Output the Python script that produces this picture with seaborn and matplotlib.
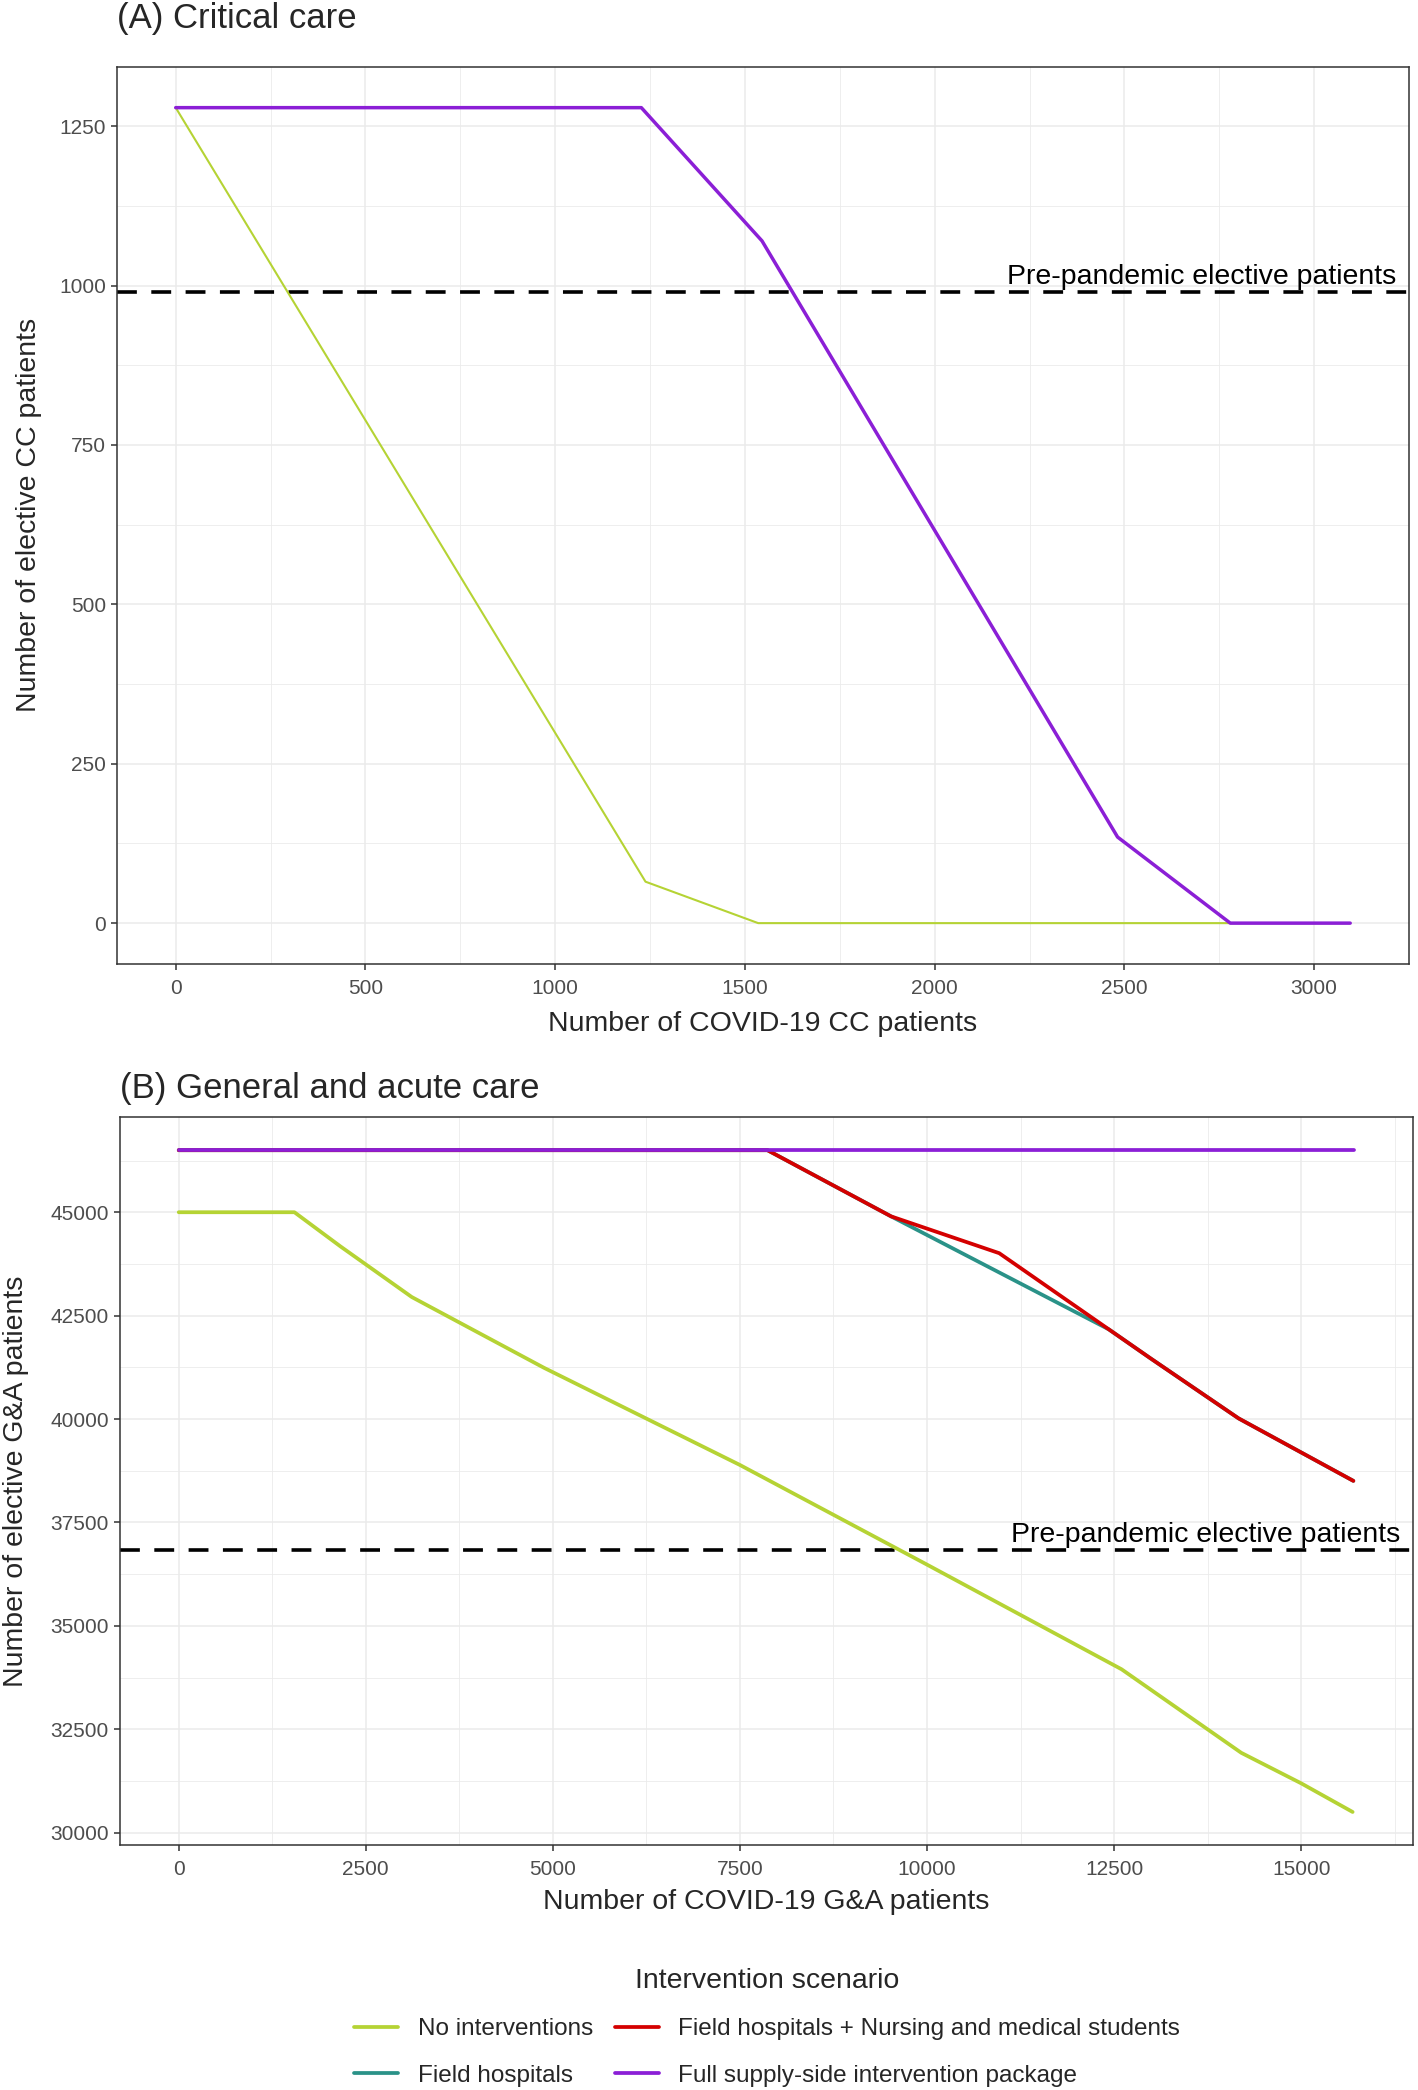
import numpy as np
import pandas as pd
import matplotlib
matplotlib.use("Agg")
import matplotlib.pyplot as plt
import matplotlib.transforms as mtransforms
from matplotlib.lines import Line2D
from matplotlib.ticker import MultipleLocator
import seaborn as sns

# scenarios, in the order they are drawn (and listed in the legend)
SCENARIOS = ["No interventions", "Field hospitals",
             "Field hospitals + Nursing and medical students",
             "Full supply-side intervention package"]
COLOURS = ["#b5d334", "#2a9288", "#d40000", "#8b1fd6"]

# (A) critical care
cc_none_x = [0, 1238, 1535, 3095]
cc_none_y = [1279, 65, 0, 0]
cc_full_x = [0, 1227, 1545, 2482, 2779, 3095]
cc_full_y = [1279, 1279, 1070, 135, 0, 0]
cc_prepandemic = 990

# (B) general and acute care
ga_none_x = [0, 1546, 2164, 3114, 4880, 7500, 10000, 12600, 14200, 15000, 15688]
ga_none_y = [45000, 45000, 44170, 42950, 41240, 38889, 36480, 33950, 31930, 31193, 30500]
ga_fh_x = [0, 7868, 9520, 12430, 12985, 14164, 15698]
ga_fh_y = [46500, 46500, 44900, 42168, 41470, 40016, 38505]
ga_fhn_x = [0, 7868, 9520, 10965, 12985, 14164, 15698]
ga_fhn_y = [46500, 46500, 44900, 44010, 41470, 40016, 38505]
ga_full_x = [0, 15710]
ga_full_y = [46500, 46500]
ga_prepandemic = 36830

LABEL_TEXT = "Pre-pandemic elective patients"


def long_table(series):
    parts = [pd.DataFrame({"covid": xs, "elective": ys, "scenario": name})
             for name, xs, ys in series]
    return pd.concat(parts, ignore_index=True)


sns.set_theme(style="white")
plt.rcParams["font.family"] = ["Liberation Sans", "DejaVu Sans"]

fig = plt.figure(figsize=(14.18, 20.90), dpi=100)
ax_a = fig.add_axes([0.0825, 0.5388, 0.9111, 0.4292])
ax_b = fig.add_axes([0.0846, 0.1172, 0.9119, 0.3483])

palette = dict(zip(SCENARIOS, COLOURS))

df_cc = long_table([(SCENARIOS[0], cc_none_x, cc_none_y),
                    (SCENARIOS[3], cc_full_x, cc_full_y)])
df_ga = long_table([(SCENARIOS[0], ga_none_x, ga_none_y),
                    (SCENARIOS[1], ga_fh_x, ga_fh_y),
                    (SCENARIOS[2], ga_fhn_x, ga_fhn_y),
                    (SCENARIOS[3], ga_full_x, ga_full_y)])

sns.lineplot(data=df_cc, x="covid", y="elective", hue="scenario", size="scenario",
             hue_order=[SCENARIOS[0], SCENARIOS[3]], palette=palette,
             sizes={SCENARIOS[0]: 1.5, SCENARIOS[3]: 2.5},
             estimator=None, sort=False, legend=False, ax=ax_a)
sns.lineplot(data=df_ga, x="covid", y="elective", hue="scenario",
             hue_order=SCENARIOS, palette=palette, linewidth=2.7,
             estimator=None, sort=False, legend=False, ax=ax_b)


def style_panel(ax, data, xstep, ystep, hline, title, pad, xlab, ylab, xlab_y, ylab_x):
    xmin, xmax = data["covid"].min(), data["covid"].max()
    ymin, ymax = data["elective"].min(), data["elective"].max()
    ex = 0.05 * (xmax - xmin)
    ey = 0.05 * (ymax - ymin)
    ax.set_xlim(xmin - ex, xmax + ex)
    ax.set_ylim(ymin - ey, ymax + ey)
    ax.xaxis.set_major_locator(MultipleLocator(xstep))
    ax.xaxis.set_minor_locator(MultipleLocator(xstep / 2))
    ax.yaxis.set_major_locator(MultipleLocator(ystep))
    ax.yaxis.set_minor_locator(MultipleLocator(ystep / 2))
    ax.grid(which="major", color="#ebebeb", linewidth=1.1)
    ax.grid(which="minor", color="#ebebeb", linewidth=0.6)
    ax.set_axisbelow(True)
    for sp in ax.spines.values():
        sp.set_visible(True)
        sp.set_color("#333333")
        sp.set_linewidth(1.1)
    ax.tick_params(which="major", length=4, width=1.1, color="#333333",
                   labelsize=15, labelcolor="#4d4d4d", pad=4,
                   bottom=True, left=True)
    ax.tick_params(axis="x", which="major", pad=7)
    ax.tick_params(which="minor", length=0)

    ax.axhline(hline, color="black", linestyle=(0, (5.5, 4)), linewidth=2.6, zorder=1.5)
    trans = mtransforms.blended_transform_factory(ax.transAxes, ax.transData)
    ax.annotate(LABEL_TEXT, xy=(0.99, hline), xycoords=trans, xytext=(0, 1.5),
                textcoords="offset points", ha="right", va="bottom",
                fontsize=20.5, color="black")

    ax.set_title(title, loc="left", fontsize=25, pad=pad)
    ax.set_xlabel(xlab, fontsize=20.5)
    ax.set_ylabel(ylab, fontsize=20.5)
    ax.xaxis.set_label_coords(0.5, xlab_y)
    ax.yaxis.set_label_coords(ylab_x, 0.5)


style_panel(ax_a, df_cc, 500, 250, cc_prepandemic, "(A) Critical care", 28,
            "Number of COVID-19 CC patients", "Number of elective CC patients",
            -0.053, -0.058)
style_panel(ax_b, df_ga, 2500, 2500, ga_prepandemic, "(B) General and acute care", 13.5,
            "Number of COVID-19 G&A patients", "Number of elective G&A patients",
            -0.061, -0.070)

handles = [Line2D([], [], color=c, linewidth=2.7) for c in COLOURS]
fig.legend(handles, SCENARIOS, ncol=2, loc="center", bbox_to_anchor=(0.541, 0.030),
           frameon=False, fontsize=17.5, title="Intervention scenario",
           title_fontsize=20.5, handlelength=1.8, handletextpad=0.8,
           columnspacing=0.9, labelspacing=1.0, borderpad=0)

fig.savefig("out.png", dpi=100, facecolor="white")
